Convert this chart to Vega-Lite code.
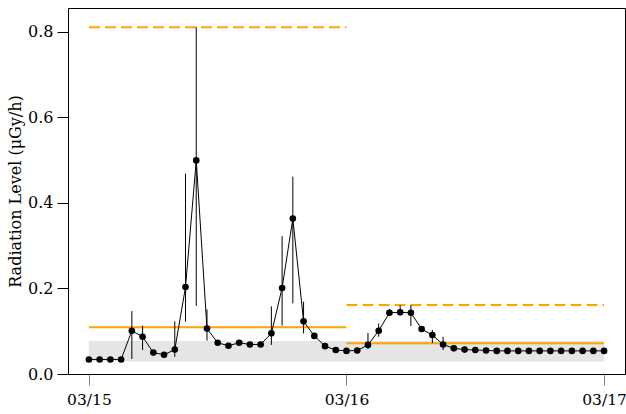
{
  "$schema": "https://vega.github.io/schema/vega-lite/v6.json",
  "width": 557,
  "height": 366,
  "autosize": {"type": "none"},
  "padding": {"left": 68, "top": 8, "right": 1, "bottom": 40},
  "background": "white",
  "config": {
    "view": {"stroke": "black", "strokeWidth": 1},
    "font": "DejaVu Serif",
    "axis": {"grid": false, "domain": false, "labelFont": "DejaVu Serif", "titleFont": "DejaVu Serif", "labelFontSize": 16, "titleFontSize": 16, "labelColor": "black", "titleColor": "black", "titleFontWeight": "normal", "tickSize": 11}
  },
  "datasets": {
    "pts": [
      {"h": 0, "v": 0.034}, {"h": 1, "v": 0.034}, {"h": 2, "v": 0.034}, {"h": 3, "v": 0.034},
      {"h": 4, "v": 0.101}, {"h": 5, "v": 0.087}, {"h": 6, "v": 0.050}, {"h": 7, "v": 0.045},
      {"h": 8, "v": 0.057}, {"h": 9, "v": 0.203}, {"h": 10, "v": 0.499}, {"h": 11, "v": 0.106},
      {"h": 12, "v": 0.073}, {"h": 13, "v": 0.066}, {"h": 14, "v": 0.073}, {"h": 15, "v": 0.069},
      {"h": 16, "v": 0.069}, {"h": 17, "v": 0.095}, {"h": 18, "v": 0.201}, {"h": 19, "v": 0.363},
      {"h": 20, "v": 0.123}, {"h": 21, "v": 0.089}, {"h": 22, "v": 0.065}, {"h": 23, "v": 0.056},
      {"h": 24, "v": 0.054}, {"h": 25, "v": 0.055}, {"h": 26, "v": 0.068}, {"h": 27, "v": 0.101},
      {"h": 28, "v": 0.143}, {"h": 29, "v": 0.144}, {"h": 30, "v": 0.143}, {"h": 31, "v": 0.105},
      {"h": 32, "v": 0.091}, {"h": 33, "v": 0.069}, {"h": 34, "v": 0.060}, {"h": 35, "v": 0.057},
      {"h": 36, "v": 0.056}, {"h": 37, "v": 0.055}, {"h": 38, "v": 0.054}, {"h": 39, "v": 0.054},
      {"h": 40, "v": 0.054}, {"h": 41, "v": 0.054}, {"h": 42, "v": 0.054}, {"h": 43, "v": 0.054},
      {"h": 44, "v": 0.054}, {"h": 45, "v": 0.054}, {"h": 46, "v": 0.054}, {"h": 47, "v": 0.054},
      {"h": 48, "v": 0.054}
    ],
    "err": [
      {"h": 4, "lo": 0.035, "hi": 0.147}, {"h": 5, "lo": 0.056, "hi": 0.113},
      {"h": 8, "lo": 0.040, "hi": 0.123}, {"h": 9, "lo": 0.122, "hi": 0.468},
      {"h": 10, "lo": 0.159, "hi": 0.81}, {"h": 11, "lo": 0.078, "hi": 0.151},
      {"h": 17, "lo": 0.068, "hi": 0.158}, {"h": 18, "lo": 0.113, "hi": 0.322},
      {"h": 19, "lo": 0.165, "hi": 0.461}, {"h": 20, "lo": 0.095, "hi": 0.169},
      {"h": 22, "lo": 0.058, "hi": 0.072}, {"h": 26, "lo": 0.058, "hi": 0.096},
      {"h": 27, "lo": 0.087, "hi": 0.118}, {"h": 28, "lo": 0.135, "hi": 0.152},
      {"h": 29, "lo": 0.138, "hi": 0.161}, {"h": 30, "lo": 0.112, "hi": 0.161},
      {"h": 32, "lo": 0.072, "hi": 0.103}, {"h": 33, "lo": 0.056, "hi": 0.087},
      {"h": 34, "lo": 0.054, "hi": 0.066}
    ],
    "solid": [
      {"x0": 0, "x1": 24, "y": 0.109},
      {"x0": 24, "x1": 48, "y": 0.072}
    ],
    "dashed": [
      {"x0": 0, "x1": 24, "y": 0.81},
      {"x0": 24, "x1": 48, "y": 0.161}
    ],
    "band": [
      {"x0": 0, "x1": 48, "lo": 0.029, "hi": 0.077}
    ]
  },
  "layer": [
    {
      "data": {"name": "band"},
      "mark": {"type": "rect", "color": "#e5e5e5"},
      "encoding": {
        "x": {"field": "x0", "type": "quantitative", "scale": {"domain": [-1.95, 49.95], "nice": false, "zero": false},
          "axis": {"values": [0, 24, 48], "title": null, "labelExpr": "datum.value == 0 ? '03/15' : datum.value == 24 ? '03/16' : '03/17'", "tickColor": "#808080", "labelPadding": 7, "labelFontSize": 15.5}},
        "x2": {"field": "x1"},
        "y": {"field": "lo", "type": "quantitative", "scale": {"domain": [0, 0.855], "nice": false, "zero": false},
          "axis": {"values": [0, 0.2, 0.4, 0.6, 0.8], "format": ".1f", "title": "Radiation Level (μGy/h)", "tickColor": "black", "labelPadding": 4, "titlePadding": 4}},
        "y2": {"field": "hi"}
      }
    },
    {
      "data": {"name": "solid"},
      "mark": {"type": "rule", "color": "#FFA500", "strokeWidth": 2},
      "encoding": {
        "x": {"field": "x0", "type": "quantitative"},
        "x2": {"field": "x1"},
        "y": {"field": "y", "type": "quantitative"}
      }
    },
    {
      "data": {"name": "dashed"},
      "mark": {"type": "rule", "color": "#FFA500", "strokeWidth": 2, "strokeDash": [11, 5]},
      "encoding": {
        "x": {"field": "x0", "type": "quantitative"},
        "x2": {"field": "x1"},
        "y": {"field": "y", "type": "quantitative"}
      }
    },
    {
      "data": {"name": "err"},
      "mark": {"type": "rule", "color": "black", "strokeWidth": 1},
      "encoding": {
        "x": {"field": "h", "type": "quantitative"},
        "y": {"field": "lo", "type": "quantitative"},
        "y2": {"field": "hi"}
      }
    },
    {
      "data": {"name": "pts"},
      "mark": {"type": "line", "color": "black", "strokeWidth": 1},
      "encoding": {
        "x": {"field": "h", "type": "quantitative"},
        "y": {"field": "v", "type": "quantitative"}
      }
    },
    {
      "data": {"name": "pts"},
      "mark": {"type": "point", "filled": true, "color": "black", "opacity": 1, "size": 44},
      "encoding": {
        "x": {"field": "h", "type": "quantitative"},
        "y": {"field": "v", "type": "quantitative"}
      }
    }
  ]
}
